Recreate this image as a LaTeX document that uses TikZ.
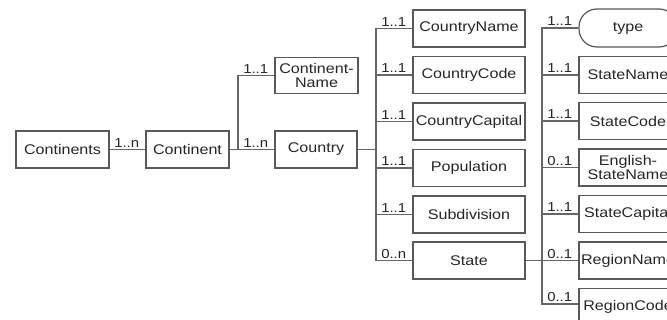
\documentclass[tikz,border=0pt]{standalone}
\usepackage{fontspec}
\setmainfont{Liberation Sans}[FakeStretch=1.15]
\usetikzlibrary{calc}
\begin{document}
\begin{tikzpicture}[x=1pt,y=-1pt,
  box/.style={draw=black!65, line width=1.2pt, minimum height=37pt, inner sep=0pt,
    align=center, font=\fontsize{14}{14.5}\selectfont, text=black!85},
  lbl/.style={font=\fontsize{13}{13}\selectfont, text=black!85, inner sep=0pt, anchor=south east},
  conn/.style={draw=black!60, line width=1.3pt},
  mid/.style={box, minimum width=112pt},
  rgt/.style={box, minimum width=98pt}]
\useasboundingbox (0,0) rectangle (667,320);
\clip (0,0) rectangle (667,320);
\fill[white] (0,0) rectangle (667,320);

% nodes
\node[box, minimum width=93pt] (continents) at (62.5,149.5) {Continents};
\node[box, minimum width=83pt] (continent) at (187.5,149.5) {Continent};
\node[box, minimum width=83pt, minimum height=36pt] (cname) at (316.5,75.5) {Continent-\\Name};
\node[box, minimum width=82pt] (country) at (316,149.5) {Country};

\node[mid] (countryname) at (469,28.5) {CountryName};
\node[mid] (countrycode) at (469,75) {CountryCode};
\node[mid] (countrycapital) at (469,121.5) {CountryCapital};
\node[mid] (population) at (469,168) {Population};
\node[mid] (subdivision) at (469,214.5) {Subdivision};
\node[mid] (state) at (469,260.5) {State};

\node[rgt, minimum height=38pt, rounded corners=18pt] (type) at (628,28) {type};
\node[rgt] (statename) at (628,75) {StateName};
\node[rgt] (statecode) at (628,121) {StateCode};
\node[rgt] (eng) at (628,167.5) {English-\\StateName};
\node[rgt] (statecapital) at (628,214) {StateCapital};
\node[rgt] (regionname) at (628,260.5) {RegionName};
\node[rgt] (regioncode) at (628,307) {RegionCode};

% junctions
\coordinate (j1) at (238,149.5);
\coordinate (j2) at (376,149.5);
\coordinate (j3) at (542,260.5);

% connectors
\draw[conn] (continents.east) -- (continent.west);
\draw[conn] (continent.east) -- (j1) -- (country.west);
\draw[conn] (j1) |- (cname.west);
\draw[conn] (country.east) -- (j2);
\foreach \n in {countryname,countrycode,countrycapital,population,subdivision,state}
  \draw[conn] (j2) |- (\n.west);
\draw[conn] (state.east) -- (j3);
\foreach \n in {type,statename,statecode,eng,statecapital,regionname}
  \draw[conn] (j3) |- (\n.west);
\draw[conn] (j3) |- ([yshift=3pt]regioncode.west);

% labels
\node[lbl] at ([xshift=-6pt,yshift=2pt]continent.west) {1..n};
\node[lbl] at ([xshift=-6pt,yshift=2pt]cname.west) {1..1};
\node[lbl] at ([xshift=-6pt,yshift=2pt]country.west) {1..n};
\node[lbl] at ([xshift=-6pt,yshift=2pt]countryname.west) {1..1};
\node[lbl] at ([xshift=-6pt,yshift=2pt]countrycode.west) {1..1};
\node[lbl] at ([xshift=-6pt,yshift=2pt]countrycapital.west) {1..1};
\node[lbl] at ([xshift=-6pt,yshift=2pt]population.west) {1..1};
\node[lbl] at ([xshift=-6pt,yshift=2pt]subdivision.west) {1..1};
\node[lbl] at ([xshift=-6pt,yshift=2pt]state.west) {0..n};
\node[lbl] at ([xshift=-6pt,yshift=2pt]type.west) {1..1};
\node[lbl] at ([xshift=-6pt,yshift=2pt]statename.west) {1..1};
\node[lbl] at ([xshift=-6pt,yshift=2pt]statecode.west) {1..1};
\node[lbl] at ([xshift=-6pt,yshift=2pt]eng.west) {0..1};
\node[lbl] at ([xshift=-6pt,yshift=2pt]statecapital.west) {1..1};
\node[lbl] at ([xshift=-6pt,yshift=2pt]regionname.west) {0..1};
\node[lbl] at ([xshift=-6pt,yshift=5pt]regioncode.west) {0..1};
\end{tikzpicture}
\end{document}
